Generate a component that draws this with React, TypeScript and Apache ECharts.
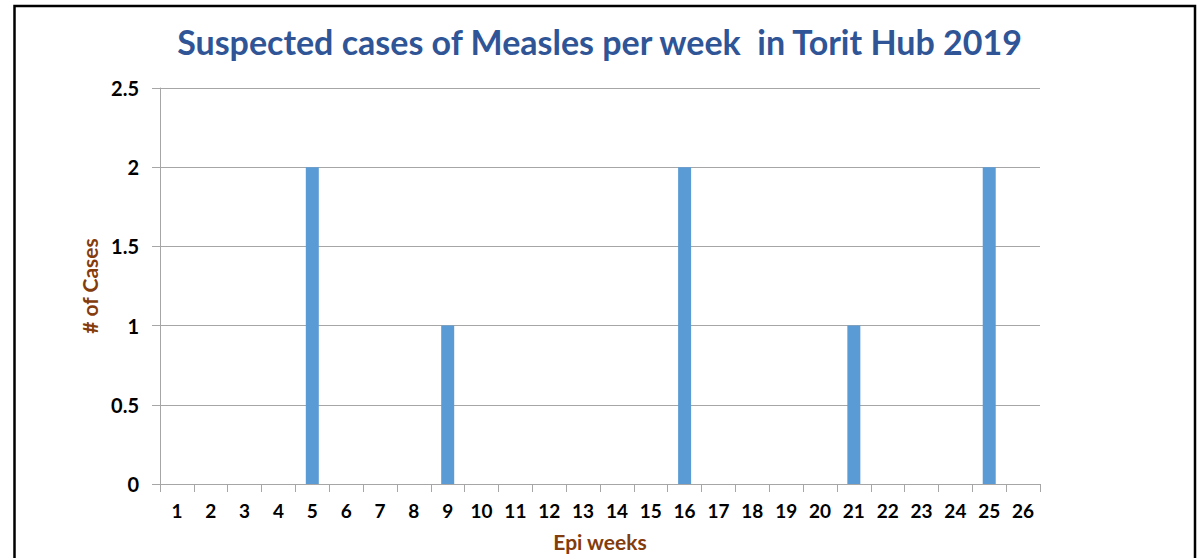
import React, { useEffect, useRef } from "react";
import * as echarts from "echarts";

const weeks = ["1","2","3","4","5","6","7","8","9","10","11","12","13","14","15","16","17","18","19","20","21","22","23","24","25","26"];
const cases = [0,0,0,0,2,0,0,0,1,0,0,0,0,0,0,2,0,0,0,0,1,0,0,0,2,0];
const titleText = "Suspected cases of Measles per week  in Torit Hub 2019";
const yName = "# of Cases";
const xName = "Epi weeks";

export default function App() {
  const ref = useRef<HTMLDivElement>(null);
  useEffect(() => {
    if (!ref.current) return;
    const chart = echarts.init(ref.current, undefined, { renderer: "svg" });
    const font = "Lato";
    chart.setOption({
      animation: false,
      backgroundColor: "#ffffff",
      title: {
        text: titleText,
        left: "center",
        top: 19,
        textStyle: { fontFamily: font, fontSize: 34, fontWeight: "bold", color: "#2F5597" },
      },
      graphic: [
        {
          type: "rect",
          shape: { x: 14.5, y: 6, width: 1180.5, height: 570 },
          style: { fill: "none", stroke: "#000000", lineWidth: 2.5 },
          silent: true,
        },
      ],
      grid: { left: 160, right: 159, top: 88, bottom: 74 },
      xAxis: {
        type: "category",
        data: weeks,
        boundaryGap: true,
        name: xName,
        nameLocation: "middle",
        nameGap: 47,
        nameTextStyle: { fontFamily: font, fontSize: 21, fontWeight: "bold", color: "#843C0C" },
        axisLine: { show: true, lineStyle: { color: "#A6A6A6", width: 1 } },
        axisTick: { show: true, alignWithLabel: false, length: 8, lineStyle: { color: "#A6A6A6" } },
        axisLabel: { interval: 0, margin: 17, fontFamily: font, fontSize: 19, fontWeight: "bold", color: "#000000" },
        splitLine: { show: false },
      },
      yAxis: {
        type: "value",
        min: 0,
        max: 2.5,
        interval: 0.5,
        name: yName,
        nameLocation: "middle",
        nameGap: 60,
        nameTextStyle: { fontFamily: font, fontSize: 21, fontWeight: "bold", color: "#843C0C" },
        axisLine: { show: true, lineStyle: { color: "#A6A6A6", width: 1 } },
        axisTick: { show: true, length: 8, lineStyle: { color: "#A6A6A6" } },
        axisLabel: { margin: 21, fontFamily: font, fontSize: 20, fontWeight: "bold", color: "#000000" },
        splitLine: { show: true, lineStyle: { color: "#A6A6A6", width: 1 } },
      },
      series: [
        {
          type: "bar",
          data: cases,
          barWidth: 13,
          itemStyle: { color: "#5B9BD5" },
        },
      ],
    });
    return () => chart.dispose();
  }, []);
  return (
    <div
      ref={ref}
      style={{ position: "fixed", left: 0, top: 0, width: 1199, height: 558 }}
    />
  );
}
